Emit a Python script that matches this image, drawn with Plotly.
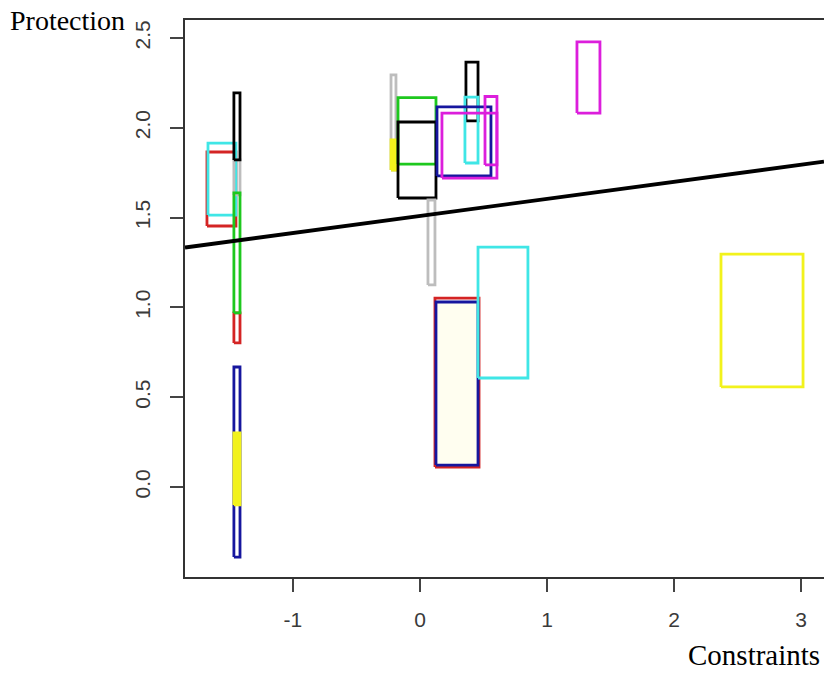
import plotly.graph_objects as go

# ---- data (interval boxes: Constraints x-range, Protection y-range) ----
box_x0 = [-1.677, -1.669, -1.465, -1.465, -1.465, -1.465, -1.465, -1.465,
          -0.228, -0.228, -0.173, -0.173, 0.063, 0.362, 0.354, 0.134, 0.173, 0.512,
          0.118, 0.126, 0.457, 1.236, 2.370]
box_x1 = [-1.449, -1.449, -1.417, -1.417, -1.417, -1.417, -1.417, -1.417,
          -0.189, -0.189, 0.126, 0.126, 0.118, 0.457, 0.457, 0.559, 0.606, 0.606,
          0.465, 0.457, 0.850, 1.417, 3.016]
box_y0 = [1.453, 1.514, 1.626, 0.802, 0.969, 1.821, -0.390, -0.100,
          1.765, 1.765, 1.798, 1.609, 1.125, 2.038, 1.804, 1.732, 1.720, 1.793,
          0.111, 0.122, 0.607, 2.082, 0.557]
box_y1 = [1.865, 1.915, 1.821, 0.969, 1.637, 2.194, 0.668, 0.301,
          2.294, 1.932, 2.168, 2.032, 1.598, 2.366, 2.171, 2.116, 2.082, 2.174,
          1.052, 1.030, 1.336, 2.478, 1.297]
box_group = ["red", "cyan", "gray", "red", "green", "black", "blue", "yellow",
             "gray", "yellow", "green", "black", "gray", "black", "cyan", "blue", "magenta", "magenta",
             "red", "blue", "cyan", "magenta", "yellow"]

fit_intercept = 1.509
fit_slope = 0.095

x_ticks = [-1, 0, 1, 2, 3]
y_ticks = [0.0, 0.5, 1.0, 1.5, 2.0, 2.5]
y_tick_labels = ["0.0", "0.5", "1.0", "1.5", "2.0", "2.5"]

x_range = [-1.850, 3.181]
y_range = [-0.501, 2.600]

# ---- styles ----
palette = {
    "red": "#d42424",
    "cyan": "#3fe6e6",
    "gray": "#bdbdbd",
    "green": "#1ec81e",
    "black": "#000000",
    "blue": "#16169e",
    "yellow": "#f2f21c",
    "magenta": "#dc1edc",
}
filled_boxes = {7: "#f2f21c", 9: "#f2f21c", 19: "#fffef0"}

fig = go.Figure()

for i in range(len(box_x0)):
    x0, x1, y0, y1 = box_x0[i], box_x1[i], box_y0[i], box_y1[i]
    fill_kw = {}
    if i in filled_boxes:
        fill_kw = dict(fill="toself", fillcolor=filled_boxes[i])
    fig.add_trace(go.Scatter(
        x=[x0, x1, x1, x0, x0], y=[y0, y0, y1, y1, y0],
        mode="lines", line=dict(color=palette[box_group[i]], width=2.8),
        hoverinfo="skip", showlegend=False, **fill_kw))

fit_x = [x_range[0], x_range[1]]
fit_y = [fit_intercept + fit_slope * v for v in fit_x]
fig.add_trace(go.Scatter(x=fit_x, y=fit_y, mode="lines",
                         line=dict(color="black", width=3.8),
                         hoverinfo="skip", showlegend=False))

tick_font = dict(family="Liberation Sans, Arial, sans-serif", size=21, color="#3a3a3a")

fig.update_layout(
    width=824, height=673,
    margin=dict(l=185, r=0, t=20, b=96),
    paper_bgcolor="white", plot_bgcolor="white",
    xaxis=dict(range=x_range, tickvals=x_ticks, ticktext=[str(v) for v in x_ticks],
               showgrid=False, zeroline=False, showline=True, linecolor="#333",
               linewidth=1.5, mirror=True, ticks="outside", ticklen=13, tickwidth=1.5,
               tickcolor="#444", tickfont=tick_font, ticklabelstandoff=10),
    yaxis=dict(range=y_range, tickvals=y_ticks, ticktext=y_tick_labels,
               showgrid=False, zeroline=False, showline=True, linecolor="#333",
               linewidth=1.5, mirror=False, ticks="outside", ticklen=13, tickwidth=1.5,
               tickcolor="#444", tickfont=tick_font, tickangle=-90, ticklabelstandoff=12),
    annotations=[
        dict(text="Protection", xref="paper", yref="paper",
             x=(9 - 185) / 639, y=(577 - 21) / 557, xanchor="left", yanchor="middle",
             showarrow=False, borderpad=0,
             font=dict(family="Liberation Serif, Times New Roman, serif", size=28, color="black")),
        dict(text="Constraints", xref="paper", yref="paper",
             x=(821 - 185) / 639, y=(577 - 655) / 557, xanchor="right", yanchor="middle",
             showarrow=False, borderpad=0,
             font=dict(family="Liberation Serif, Times New Roman, serif", size=29, color="black")),
    ],
)

fig.write_html("out.html", config={"displayModeBar": False},
               post_script="document.body.style.margin='0';document.body.style.overflow='hidden';")
